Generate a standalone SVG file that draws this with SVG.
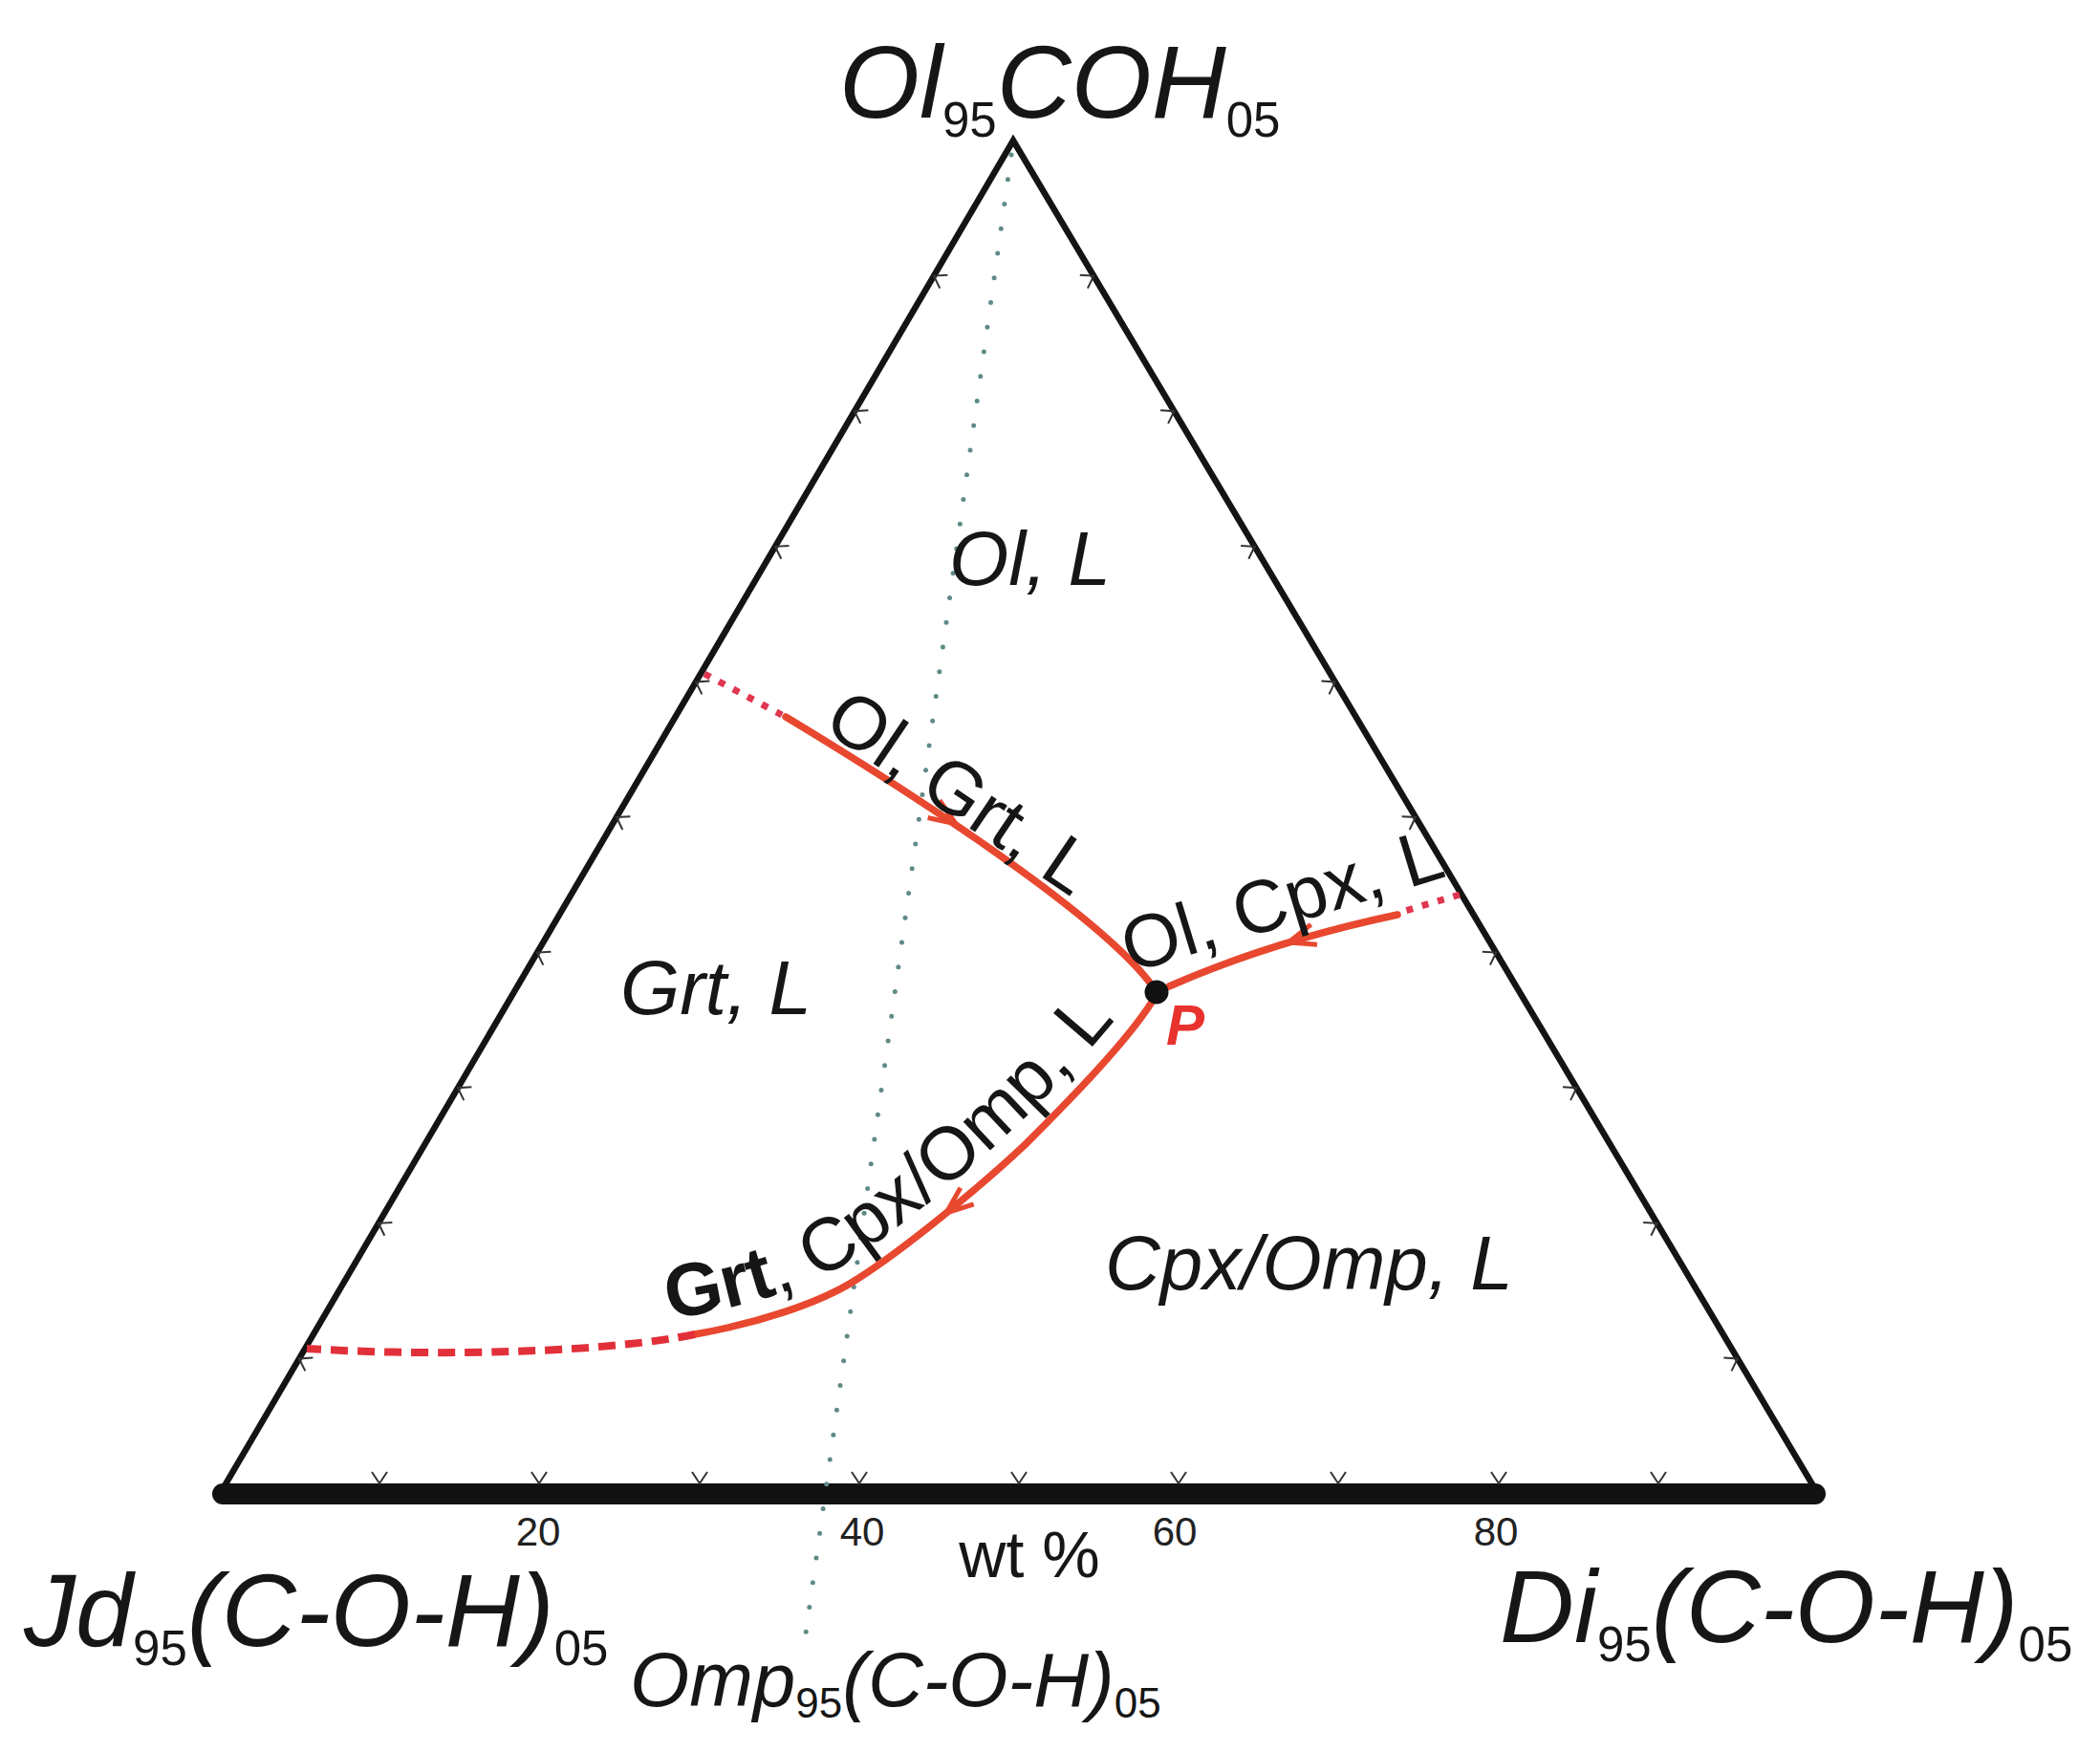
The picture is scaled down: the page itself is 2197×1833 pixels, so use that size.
<svg xmlns="http://www.w3.org/2000/svg" xmlns:xlink="http://www.w3.org/1999/xlink" width="2197" height="1833" viewBox="0 0 2197 1833">
<style>
  .t{font-family:"Liberation Sans",Arial,sans-serif;fill:#161616}
  .it{font-style:italic}
  .big{font-size:108px}
  .sub{font-size:51px;font-style:normal}
  .region{font-size:80px;font-style:italic}
  .curv{font-size:78px}
  .num{font-size:42px;fill:#222}
  .side{fill:none;stroke:#141414;stroke-width:6.5;stroke-linejoin:miter}
  .red{fill:none;stroke:#e8482f;stroke-width:7.5;stroke-linecap:round}
  .reddot{fill:none;stroke:#e0364f;stroke-width:7;stroke-dasharray:7 10}
  .reddash{fill:none;stroke:#e2303a;stroke-width:8;stroke-dasharray:18 10}
</style>
<defs>
  <path id="tick" d="M12,-8 L0,0 L12,8" fill="none" stroke="#333" stroke-width="2"/>
  <path id="arr" d="M-28,-11 L0,0 L-28,11" fill="none" stroke="#e8482f" stroke-width="5"/>
  <path id="lp3" d="M700,1380 L724,1376 C786,1365 845,1347 883,1323 C939,1288 1021,1218 1059,1182 C1096,1145 1167,1075 1192,1030"/>
</defs>
<rect width="2197" height="1833" fill="#fff"/>

<g id="triangle">
  <path class="side" d="M230,1563 L1060,147 L1902,1563"/>
  <line x1="233" y1="1563" x2="1899" y2="1563" stroke="#111" stroke-width="22" stroke-linecap="round"/>
  <g id="ticks-left">
    <use xlink:href="#tick" transform="translate(977,288.6) rotate(30.4)"/>
    <use xlink:href="#tick" transform="translate(894,430.2) rotate(30.4)"/>
    <use xlink:href="#tick" transform="translate(811,571.8) rotate(30.4)"/>
    <use xlink:href="#tick" transform="translate(728,713.4) rotate(30.4)"/>
    <use xlink:href="#tick" transform="translate(645,855) rotate(30.4)"/>
    <use xlink:href="#tick" transform="translate(562,996.6) rotate(30.4)"/>
    <use xlink:href="#tick" transform="translate(479,1138.2) rotate(30.4)"/>
    <use xlink:href="#tick" transform="translate(396,1279.8) rotate(30.4)"/>
    <use xlink:href="#tick" transform="translate(313,1421.4) rotate(30.4)"/>
  </g>
  <g id="ticks-right">
    <use xlink:href="#tick" transform="translate(1144.2,288.6) rotate(149.6)"/>
    <use xlink:href="#tick" transform="translate(1228.4,430.2) rotate(149.6)"/>
    <use xlink:href="#tick" transform="translate(1312.6,571.8) rotate(149.6)"/>
    <use xlink:href="#tick" transform="translate(1396.8,713.4) rotate(149.6)"/>
    <use xlink:href="#tick" transform="translate(1481,855) rotate(149.6)"/>
    <use xlink:href="#tick" transform="translate(1565.2,996.6) rotate(149.6)"/>
    <use xlink:href="#tick" transform="translate(1649.4,1138.2) rotate(149.6)"/>
    <use xlink:href="#tick" transform="translate(1733.6,1279.8) rotate(149.6)"/>
    <use xlink:href="#tick" transform="translate(1817.8,1421.4) rotate(149.6)"/>
  </g>
  <g id="ticks-bottom">
    <use xlink:href="#tick" transform="translate(397,1552) rotate(-90)"/>
    <use xlink:href="#tick" transform="translate(564,1552) rotate(-90)"/>
    <use xlink:href="#tick" transform="translate(732,1552) rotate(-90)"/>
    <use xlink:href="#tick" transform="translate(899,1552) rotate(-90)"/>
    <use xlink:href="#tick" transform="translate(1066,1552) rotate(-90)"/>
    <use xlink:href="#tick" transform="translate(1233,1552) rotate(-90)"/>
    <use xlink:href="#tick" transform="translate(1400,1552) rotate(-90)"/>
    <use xlink:href="#tick" transform="translate(1568,1552) rotate(-90)"/>
    <use xlink:href="#tick" transform="translate(1735,1552) rotate(-90)"/>
  </g>
</g>

<g id="omp-join">
  <line x1="1058" y1="162" x2="842" y2="1716" stroke="#5e8a87" stroke-width="5" stroke-linecap="round" stroke-dasharray="0 26"/>
</g>

<g id="connectors">
  <path id="ol-grt" class="red" d="M822,750 C930,815 1160,960 1210,1038"/>
  <path class="reddot" d="M737,705 L818,748"/>
  <path id="ol-cpx" class="red" d="M1462,957 Q1330,985 1223,1032"/>
  <path class="reddot" d="M1527,936 L1470,953"/>
  <path id="grt-cpx" class="red" d="M1210,1040 C1185,1085 1110,1160 1073,1197 C1035,1233 950,1305 894,1340 C856,1364 790,1385 727,1396"/>
  <path class="reddash" d="M727,1396 C640,1414 470,1420 321,1411"/>
  <use xlink:href="#arr" transform="translate(1000,862) rotate(34)"/>
  <use xlink:href="#arr" transform="translate(1348,986) rotate(163)"/>
  <use xlink:href="#arr" transform="translate(990,1269) rotate(141)"/>
</g>

<g id="point-P">
  <circle cx="1210" cy="1038" r="12.5" fill="#111"/>
  <text x="1220" y="1093" font-family="Liberation Sans, Arial, sans-serif" font-size="60" font-weight="bold" font-style="italic" fill="#e8322e">P</text>
</g>

<g id="apex-top">
  <text class="t it big" x="878" y="123">Ol<tspan class="sub" dy="20">95</tspan><tspan dy="-20">COH</tspan><tspan class="sub" dy="20">05</tspan></text>
</g>
<g id="apex-left">
  <text class="t it big" x="25" y="1722">Jd<tspan class="sub" dy="20">95</tspan><tspan dy="-20">(C-O-H)</tspan><tspan class="sub" dy="20">05</tspan></text>
</g>
<g id="apex-right">
  <text class="t it big" x="1569" y="1718">Di<tspan class="sub" dy="20">95</tspan><tspan dy="-20">(C-O-H)</tspan><tspan class="sub" dy="20">05</tspan></text>
</g>
<g id="omp-label">
  <text class="t it" font-size="80" x="659" y="1785">Omp<tspan font-size="44" font-style="normal" dy="12">95</tspan><tspan dy="-12">(C-O-H)</tspan><tspan font-size="44" font-style="normal" dy="12">05</tspan></text>
</g>

<g id="axis-labels">
  <text class="t num" x="563" y="1617" text-anchor="middle">20</text>
  <text class="t num" x="902" y="1617" text-anchor="middle">40</text>
  <text class="t num" x="1229" y="1617" text-anchor="middle">60</text>
  <text class="t num" x="1565" y="1617" text-anchor="middle">80</text>
  <text class="t" font-size="68" x="1077" y="1650" text-anchor="middle">wt %</text>
</g>

<g id="field-ol">
  <text class="t region" x="993" y="612">Ol, L</text>
</g>
<g id="field-grt">
  <text class="t region" x="649" y="1061">Grt, L</text>
</g>
<g id="field-cpx">
  <text class="t region" x="1156" y="1349">Cpx/Omp, L</text>
</g>

<g id="label-ol-grt">
  <text class="t curv" transform="translate(859,762) rotate(34)">Ol, Grt, L</text>
</g>
<g id="label-ol-cpx">
  <text class="t curv" transform="translate(1183,1018) rotate(-17)">Ol, Cpx, L</text>
</g>
<g id="label-grt-cpx">
  <text class="t curv"><textPath xlink:href="#lp3"><tspan font-weight="bold">Grt</tspan>, Cpx/Omp, L</textPath></text>
</g>
</svg>
